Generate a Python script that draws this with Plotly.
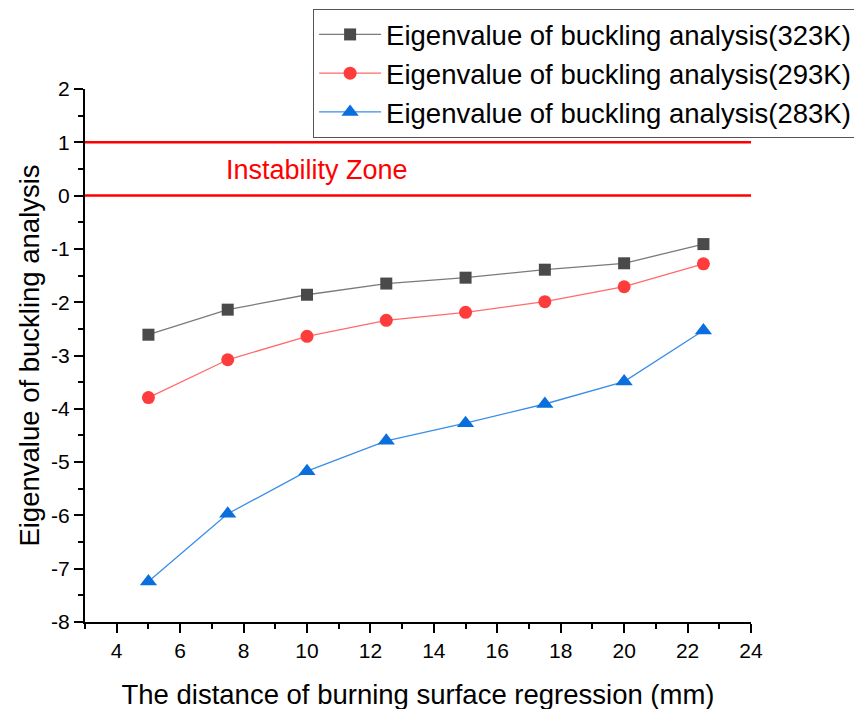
import plotly.graph_objects as go

x_mm = [5, 7.5, 10, 12.5, 15, 17.5, 20, 22.5]
eig_323K = [-2.61, -2.14, -1.86, -1.65, -1.54, -1.39, -1.27, -0.91]
eig_293K = [-3.79, -3.08, -2.64, -2.34, -2.19, -1.99, -1.71, -1.28]
eig_283K = [-7.24, -5.97, -5.17, -4.60, -4.27, -3.91, -3.49, -2.53]
zone_bounds = [0, 1]
zone_label = "Instability Zone"
x_range = [3, 24]
y_range = [-8, 2]
x_ticks = [4, 6, 8, 10, 12, 14, 16, 18, 20, 22, 24]
y_ticks = list(range(-8, 3))
y_ticktext = [str(v) for v in y_ticks]

FONT = "Liberation Sans, Arial, sans-serif"

fig = go.Figure()
fig.add_trace(go.Scatter(x=x_mm, y=eig_323K, mode="lines+markers",
                         name="Eigenvalue of buckling analysis(323K)",
                         line=dict(color="#7a7a7a", width=1.3),
                         marker=dict(symbol="square", size=12, color="#4a4a4a")))
fig.add_trace(go.Scatter(x=x_mm, y=eig_293K, mode="lines+markers",
                         name="Eigenvalue of buckling analysis(293K)",
                         line=dict(color="#ff6b6b", width=1.3),
                         marker=dict(symbol="circle", size=13, color="#ff3c3c")))
fig.add_trace(go.Scatter(x=x_mm, y=eig_283K, mode="lines+markers",
                         name="Eigenvalue of buckling analysis(283K)",
                         line=dict(color="#3a8ee8", width=1.3),
                         marker=dict(symbol="triangle-up", size=15, color="#0a6fdc")))

for b in zone_bounds:
    fig.add_shape(type="line", xref="x", yref="y", x0=x_range[0], x1=x_range[1],
                  y0=b, y1=b, line=dict(color="#ff0000", width=2.5))

fig.add_annotation(x=10.3, y=0.48, xref="x", yref="y", text=zone_label,
                   showarrow=False, font=dict(family=FONT, size=27, color="#ff0000"))

fig.update_layout(
    width=862, height=709,
    margin=dict(l=77, r=119, t=81, b=95, autoexpand=False),
    paper_bgcolor="white", plot_bgcolor="white",
    font=dict(family=FONT, color="black"),
    legend=dict(x=0.3425, y=1.15, xanchor="left", yanchor="top",
                bordercolor="#555555", borderwidth=1, bgcolor="white",
                itemwidth=62,
                font=dict(family=FONT, size=27.5), tracegroupgap=0),
    xaxis=dict(range=x_range, tickvals=x_ticks,
               showgrid=False, zeroline=False, showline=True, linecolor="black",
               linewidth=2, ticks="outside", ticklen=9, tickwidth=2, tickcolor="black",
               minor=dict(tickvals=[3, 5, 7, 9, 11, 13, 15, 17, 19, 21, 23],
                          ticks="outside", ticklen=5, tickwidth=2, tickcolor="black"),
               tickfont=dict(size=21), title=dict(text="The distance of burning surface regression (mm)",
                                                  font=dict(size=27.5), standoff=24)),
    yaxis=dict(range=y_range, tickvals=y_ticks, ticktext=y_ticktext,
               showgrid=False, zeroline=False, showline=True, linecolor="black",
               linewidth=2, ticks="outside", ticklen=9, tickwidth=2, tickcolor="black",
               minor=dict(tickvals=[v + 0.5 for v in range(-8, 2)],
                          ticks="outside", ticklen=5, tickwidth=2, tickcolor="black"),
               tickfont=dict(size=21), title=dict(text="Eigenvalue of buckling analysis",
                                                  font=dict(size=27.5), standoff=3)),
)

fig.write_html("out.html")
